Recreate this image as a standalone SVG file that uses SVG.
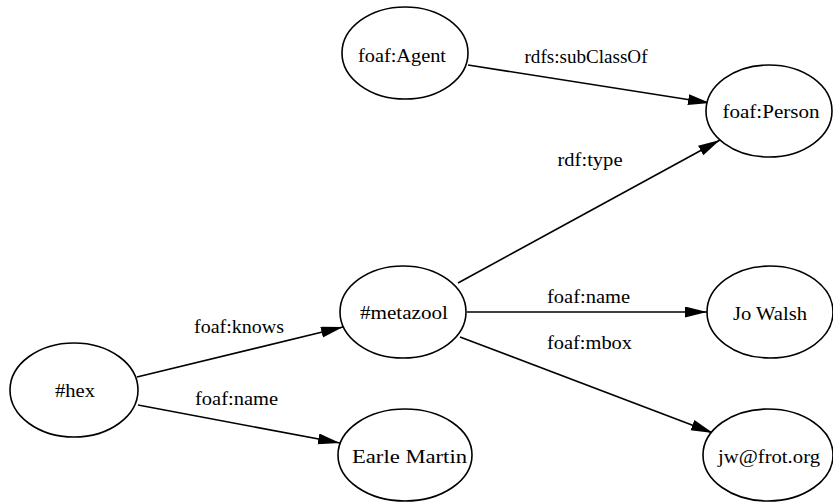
<svg xmlns="http://www.w3.org/2000/svg" width="833" height="502" viewBox="0 0 833 502">
<style>
.n ellipse{fill:#fff;stroke:#000;stroke-width:1.6}
text{font-family:"Liberation Serif","Times New Roman",serif;font-size:19px;fill:#000;text-anchor:middle}
.e line{stroke:#000;stroke-width:1.6;marker-end:url(#ah)}
</style>
<defs>
<marker id="ah" markerUnits="userSpaceOnUse" markerWidth="24" markerHeight="12" refX="22" refY="5.5" orient="auto">
<path d="M0,0 L22,5.5 L0,11 z" fill="#000"/>
</marker>
</defs>
<rect width="833" height="502" fill="#fff"/>
<g id="edges" class="e">
<line x1="468" y1="65" x2="710" y2="103"/>
<line x1="458" y1="283" x2="720" y2="140"/>
<line x1="137" y1="377" x2="343" y2="327"/>
<line x1="138" y1="405" x2="340" y2="443"/>
<line x1="467" y1="312" x2="707" y2="312"/>
<line x1="460" y1="337" x2="713" y2="433"/>
<text x="586" y="63" textLength="123" lengthAdjust="spacingAndGlyphs">rdfs:subClassOf</text>
<text x="590" y="166" textLength="65" lengthAdjust="spacingAndGlyphs">rdf:type</text>
<text x="239" y="333" textLength="90" lengthAdjust="spacingAndGlyphs">foaf:knows</text>
<text x="236.5" y="405" textLength="83" lengthAdjust="spacingAndGlyphs">foaf:name</text>
<text x="588.5" y="303" textLength="83" lengthAdjust="spacingAndGlyphs">foaf:name</text>
<text x="589.5" y="349" textLength="85" lengthAdjust="spacingAndGlyphs">foaf:mbox</text>
</g>
<g id="agent" class="n"><ellipse cx="405" cy="53" rx="63" ry="46"/><text x="402" y="62" textLength="88" lengthAdjust="spacingAndGlyphs">foaf:Agent</text></g>
<g id="person" class="n"><ellipse cx="769" cy="111" rx="63" ry="46"/><text x="771" y="118" textLength="97" lengthAdjust="spacingAndGlyphs">foaf:Person</text></g>
<g id="hex" class="n"><ellipse cx="74" cy="390" rx="64" ry="47"/><text x="75" y="397" textLength="40" lengthAdjust="spacingAndGlyphs">#hex</text></g>
<g id="metazool" class="n"><ellipse cx="403" cy="312" rx="63" ry="46"/><text x="404" y="319" textLength="88" lengthAdjust="spacingAndGlyphs">#metazool</text></g>
<g id="earle" class="n"><ellipse cx="405" cy="455" rx="67" ry="46"/><text x="409.5" y="463" textLength="115" lengthAdjust="spacingAndGlyphs">Earle Martin</text></g>
<g id="jowalsh" class="n"><ellipse cx="770" cy="312" rx="63" ry="46"/><text x="770" y="320" textLength="74" lengthAdjust="spacingAndGlyphs">Jo Walsh</text></g>
<g id="mbox" class="n"><ellipse cx="768" cy="455" rx="65" ry="46"/><text x="769" y="463" textLength="102" lengthAdjust="spacingAndGlyphs">jw@frot.org</text></g>
</svg>
